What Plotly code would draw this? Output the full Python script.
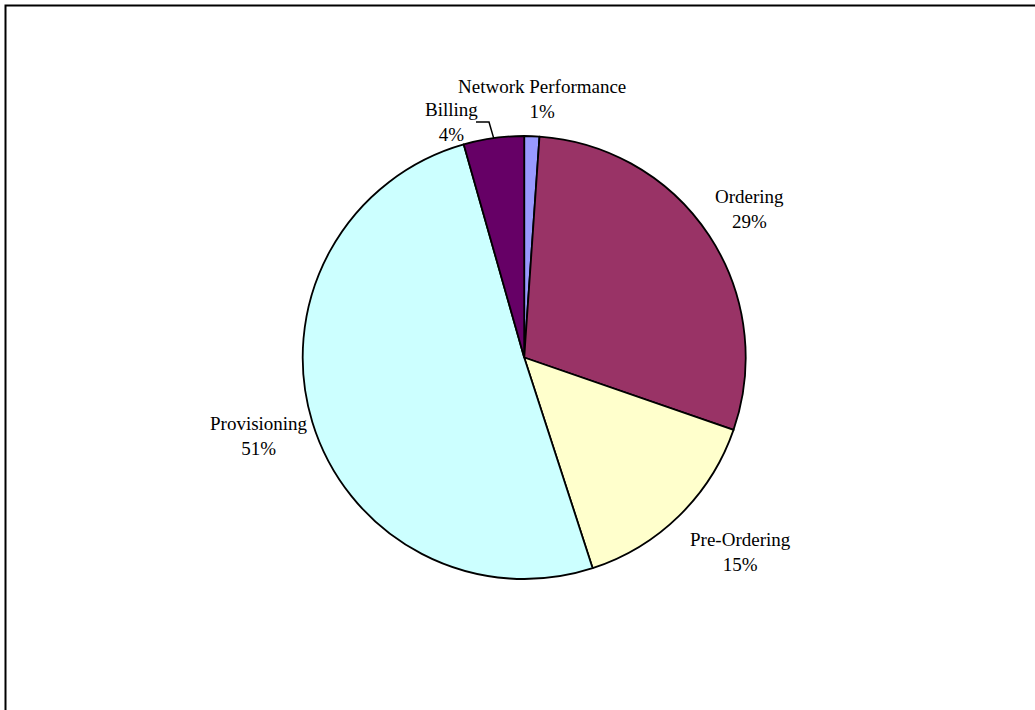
import math
import plotly.graph_objects as go

# Share of issues by business process
categories = ["Network Performance", "Ordering", "Pre-Ordering", "Provisioning", "Billing"]
shares = [1.1, 29.2, 14.7, 50.6, 4.4]
slice_colors = ["#9999FF", "#993366", "#FFFFCC", "#CCFFFF", "#660066"]

W, H = 1035, 710
CX, CY, R = 524.2, 357.5, 221.5  # pie centre and radius in pixels

# label anchor points (pixel coordinates, centre of the two-line label)
label_pos = [(541.5, 98.5), (749.0, 209.5), (740.5, 552.0), (259.3, 435.5), (451.0, 122.0)]


def px(x):
    return x / W


def py(y):
    return 1 - y / H


fig = go.Figure(
    go.Pie(
        labels=categories,
        values=shares,
        sort=False,
        direction="clockwise",
        rotation=0,
        marker=dict(colors=slice_colors, line=dict(color="black", width=1.8)),
        textinfo="none",
        hoverinfo="label+percent",
        showlegend=False,
        domain=dict(x=[px(CX - R), px(CX + R)], y=[py(CY + R), py(CY - R)]),
    )
)

total = sum(shares)
annotations = []
for name, v, (lx, ly) in zip(categories, shares, label_pos):
    annotations.append(
        dict(
            x=px(lx), y=py(ly), xref="paper", yref="paper",
            xanchor="center", yanchor="middle",
            text=f"{name}<br>{v / total:.0%}",
            showarrow=False, align="center",
            font=dict(family="Liberation Serif, Times New Roman, serif", size=19, color="black"),
        )
    )

# leader from the Billing label to the middle of its slice
start = sum(shares[:4]) / total * 360
mid = math.radians(start + shares[4] / total * 360 / 2)
ex, ey = CX + R * math.sin(mid), CY - R * math.cos(mid)
leader = f"M {px(476)} {py(122)} L {px(489)} {py(122)} L {px(ex)} {py(ey)}"

shapes = [
    dict(type="path", path=leader, xref="paper", yref="paper",
         line=dict(color="black", width=1.5)),
    # chart frame (runs past the right and bottom edges of the page)
    dict(type="rect", xref="paper", yref="paper",
         x0=px(5.5), y0=-0.1, x1=1.1, y1=py(5.5),
         line=dict(color="black", width=2), fillcolor="rgba(0,0,0,0)"),
]

fig.update_layout(
    width=W, height=H,
    margin=dict(l=0, r=0, t=0, b=0),
    paper_bgcolor="white", plot_bgcolor="white",
    annotations=annotations, shapes=shapes,
)

fig.write_html("out.html")
